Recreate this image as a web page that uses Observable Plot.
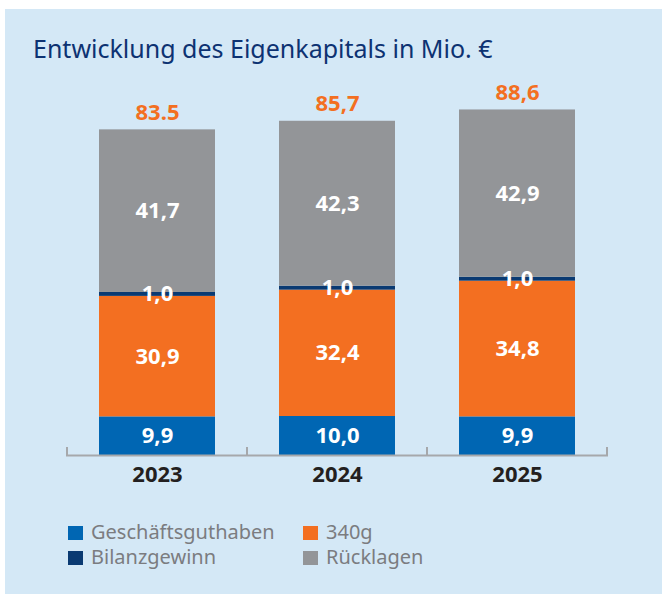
<!DOCTYPE html>
<html>
<head>
<meta charset="utf-8">
<script src="https://cdn.jsdelivr.net/npm/d3@7"></script>
<script src="https://cdn.jsdelivr.net/npm/@observablehq/plot@0.6"></script>
<style>
  html, body { margin: 0; padding: 0; background: #ffffff; }
  body { width: 662px; height: 594px; position: relative; overflow: hidden; font-family: "Noto Sans", sans-serif; }
  #panel { position: absolute; left: 5px; top: 9px; width: 657px; height: 585px; background: #d4e8f6; }
  #title { position: absolute; left: 28px; top: 24px; font-size: 25px; line-height: 30px; color: #0d3272; white-space: nowrap; }
  #chart { position: absolute; left: 0; top: 0; }
  .lg { position: absolute; font-size: 20px; line-height: 26px; color: #7b7c80; white-space: nowrap; padding-left: 23px; }
  .lg span.sw { position: absolute; left: 0; top: 7px; width: 15px; height: 14px; }
</style>
</head>
<body>
<div id="panel">
  <div id="title">Entwicklung des Eigenkapitals in Mio. €</div>
  <div id="chart"></div>
  <div id="legend"></div>
</div>
<script>
// ---- data ----
const years = ["2023", "2024", "2025"];
const seriesNames = ["Geschäftsguthaben", "340g", "Bilanzgewinn", "Rücklagen"];
const seriesColors = ["#0066b3", "#f36f21", "#0a3a72", "#939598"];
const geschaeftsguthaben = [9.9, 10.0, 9.9];
const g340 = [30.9, 32.4, 34.8];
const bilanzgewinn = [1.0, 1.0, 1.0];
const ruecklagen = [41.7, 42.3, 42.9];
const totals = [83.5, 85.7, 88.6];
const totalLabels = ["83.5", "85,7", "88,6"];

const seriesValues = [geschaeftsguthaben, g340, bilanzgewinn, ruecklagen];
const fmt = v => v.toFixed(1).replace(".", ",");

const rows = [];
years.forEach((yr, i) => {
  seriesNames.forEach((s, j) => {
    rows.push({year: yr, series: s, value: seriesValues[j][i], label: fmt(seriesValues[j][i])});
  });
});
const totalRows = years.map((yr, i) => ({year: yr, total: totals[i], label: totalLabels[i]}));

const axisColor = "#a6a8ab";

// boundary ticks between bands, computed from the band scale
function bandBoundaryTicks(index, scales) {
  const x = scales.x, y = scales.y;
  const bw = typeof x.bandwidth === "function" ? x.bandwidth() : x.bandwidth;
  const step = typeof x.step === "function" ? x.step() : bw / (1 - 0.358);
  const gap = (step - bw) / 2;
  const pos = years.map(v => x(v) - gap);
  pos.push(x(years[years.length - 1]) + bw + gap);
  const y0 = y(0);
  const g = d3.create("svg:g");
  g.selectAll("line").data(pos).join("line")
    .attr("x1", d => d).attr("x2", d => d)
    .attr("y1", y0 - 8).attr("y2", y0 + 1)
    .attr("stroke", axisColor).attr("stroke-width", 2);
  return g.node();
}

const chart = Plot.plot({
  width: 657,
  height: 585,
  marginLeft: 61,
  marginRight: 54,
  marginTop: 56,
  marginBottom: 139,
  style: {background: "transparent", fontFamily: "'Noto Sans', sans-serif"},
  x: {domain: years, paddingInner: 0.358, paddingOuter: 0.179, label: null},
  y: {domain: [0, 100], axis: null},
  color: {domain: seriesNames, range: seriesColors},
  marks: [
    Plot.barY(rows, {x: "year", y: "value", fill: "series"}),
    Plot.text(rows, Plot.stackY({x: "year", y: "value", z: "series", text: "label",
      fill: "white", fontWeight: 700, fontSize: 22})),
    Plot.text(totalRows, {x: "year", y: "total", text: "label", dy: -17,
      fill: "#f36f21", fontWeight: 700, fontSize: 22}),
    Plot.ruleY([0], {stroke: axisColor, strokeWidth: 2}),
    bandBoundaryTicks,
    Plot.axisX({tickSize: 0, tickPadding: 11, fontSize: 22, fontWeight: 700,
      color: "#231f20", label: null})
  ]
});
document.getElementById("chart").appendChild(chart);

// legend (2 x 2 grid, read order as in reference)
const legend = document.getElementById("legend");
const legendPos = [[63, 510], [298, 510], [63, 535], [298, 535]]; // panel coords for G, 340g, B, R
seriesNames.forEach((s, j) => {
  const d = document.createElement("div");
  d.className = "lg";
  d.style.left = legendPos[j][0] + "px";
  d.style.top = legendPos[j][1] + "px";
  d.innerHTML = `<span class="sw" style="background:${seriesColors[j]}"></span>${s}`;
  legend.appendChild(d);
});
</script>
</body>
</html>
